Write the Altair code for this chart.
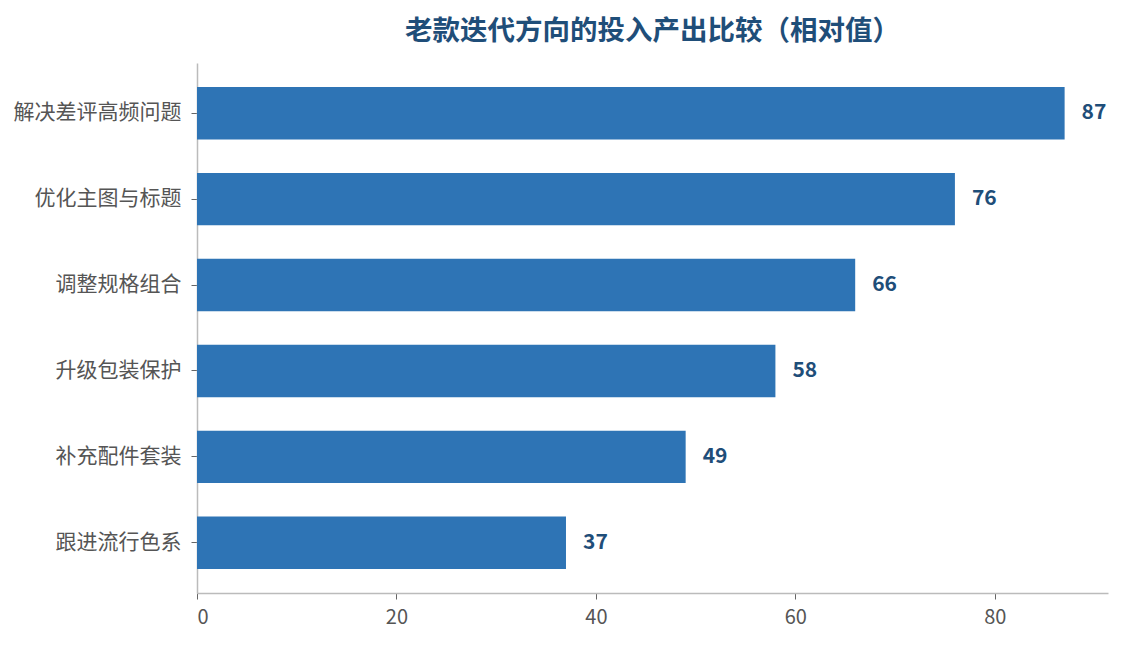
import altair as alt
import pandas as pd

directions = ["解决差评高频问题", "优化主图与标题", "调整规格组合", "升级包装保护", "补充配件套装", "跟进流行色系"]
scores = [87, 76, 66, 58, 49, 37]

source = pd.DataFrame({"方向": directions, "相对值": scores})

font = "Noto Sans CJK SC"

base = alt.Chart(source).encode(
    y=alt.Y(
        "方向:N",
        sort=directions,
        title=None,
        scale=alt.Scale(paddingInner=0.39, paddingOuter=0.28),
        axis=alt.Axis(
            labelFontSize=21,
            labelColor="#555555",
            labelFont=font,
            labelPadding=10,
            tickColor="#666666",
            tickSize=6,
            domainColor="#bbbbbb",
            domainWidth=1.5,
        ),
    ),
    x=alt.X(
        "相对值:Q",
        title=None,
        scale=alt.Scale(domain=[0, 91.35], nice=False),
        axis=alt.Axis(
            values=[0, 20, 40, 60, 80],
            grid=False,
            labelFontSize=20,
            labelColor="#555555",
            labelFont=font,
            labelPadding=8,
            tickColor="#666666",
            tickSize=6,
            domainColor="#bbbbbb",
            domainWidth=1.5,
        ),
    ),
)

bars = base.mark_bar(color="#2e74b5")

labels = base.mark_text(
    align="left",
    baseline="middle",
    dx=17,
    fontSize=21,
    fontWeight="bold",
    font=font,
    color="#1f4e79",
).encode(text="相对值:Q")

chart = (
    (bars + labels)
    .properties(
        width=911,
        height=530,
        padding={"top": 9, "left": 5, "right": 5, "bottom": 5},
        title=alt.TitleParams(
            "老款迭代方向的投入产出比较（相对值）",
            fontSize=27.5,
            fontWeight="bold",
            font=font,
            color="#1f4e79",
            anchor="middle",
            offset=18,
        ),
    )
    .configure_view(stroke=None)
)

chart.save("out.html", embed_options={"renderer": "svg", "actions": False})
